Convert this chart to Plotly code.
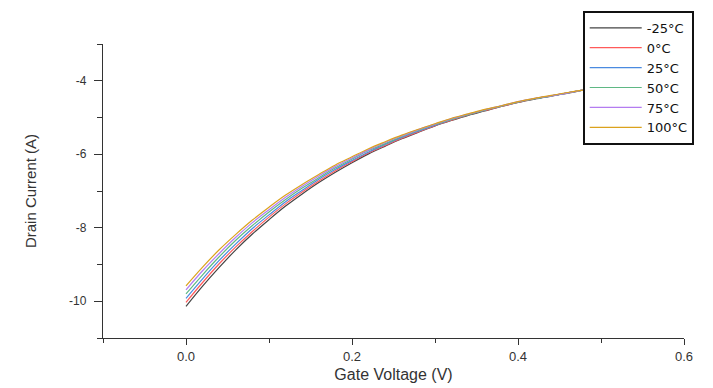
import plotly.graph_objects as go

gate_voltage = [0.00, 0.02, 0.04, 0.06, 0.08, 0.10, 0.12, 0.14, 0.16, 0.18, 0.20,
                0.22, 0.24, 0.26, 0.28, 0.30, 0.32, 0.34, 0.36, 0.38, 0.40,
                0.42, 0.44, 0.46, 0.48, 0.50, 0.52, 0.54, 0.56, 0.58, 0.60]

current_m25 = [-10.14, -9.59, -9.08, -8.60, -8.17, -7.78, -7.41, -7.08, -6.77, -6.49, -6.23,
               -5.99, -5.78, -5.58, -5.40, -5.23, -5.08, -4.94, -4.82, -4.70, -4.59,
               -4.50, -4.42, -4.34, -4.25, -4.19, -4.12, -4.07, -4.02, -3.97, -3.93]
current_0 = [-10.03, -9.49, -8.98, -8.52, -8.10, -7.71, -7.35, -7.03, -6.73, -6.45, -6.20,
             -5.96, -5.76, -5.56, -5.39, -5.22, -5.07, -4.93, -4.81, -4.70, -4.59,
             -4.49, -4.41, -4.33, -4.25, -4.19, -4.12, -4.07, -4.02, -3.97, -3.93]
current_25 = [-9.92, -9.39, -8.89, -8.44, -8.02, -7.65, -7.29, -6.98, -6.68, -6.41, -6.17,
              -5.94, -5.73, -5.54, -5.37, -5.21, -5.05, -4.92, -4.80, -4.69, -4.58,
              -4.49, -4.41, -4.33, -4.25, -4.19, -4.12, -4.07, -4.02, -3.97, -3.93]
current_50 = [-9.80, -9.28, -8.79, -8.34, -7.94, -7.57, -7.23, -6.92, -6.64, -6.37, -6.13,
              -5.90, -5.71, -5.52, -5.35, -5.19, -5.05, -4.92, -4.80, -4.69, -4.58,
              -4.49, -4.41, -4.33, -4.25, -4.19, -4.12, -4.07, -4.02, -3.97, -3.93]
current_75 = [-9.69, -9.17, -8.70, -8.26, -7.86, -7.51, -7.17, -6.87, -6.59, -6.33, -6.10,
              -5.88, -5.68, -5.50, -5.33, -5.18, -5.03, -4.91, -4.79, -4.68, -4.57,
              -4.48, -4.41, -4.33, -4.25, -4.19, -4.12, -4.07, -4.02, -3.97, -3.93]
current_100 = [-9.58, -9.07, -8.60, -8.18, -7.79, -7.44, -7.11, -6.82, -6.55, -6.29, -6.07,
               -5.85, -5.66, -5.48, -5.32, -5.17, -5.02, -4.90, -4.78, -4.68, -4.57,
               -4.48, -4.40, -4.32, -4.25, -4.19, -4.12, -4.07, -4.02, -3.97, -3.93]

series_names = ["-25°C", "0°C", "25°C", "50°C", "75°C", "100°C"]
series_values = [current_m25, current_0, current_25, current_50, current_75, current_100]
series_colors = ["#444444", "#ff5a5a", "#4a8ae0", "#5fb884", "#b47cf0", "#dba21c"]

x_tick_vals = [0.0, 0.2, 0.4, 0.6]
x_tick_text = ["0.0", "0.2", "0.4", "0.6"]
y_tick_vals = [-10, -8, -6, -4]
y_tick_text = ["-10", "-8", "-6", "-4"]

fig = go.Figure()
for name, vals, col in zip(series_names, series_values, series_colors):
    fig.add_trace(go.Scatter(x=gate_voltage, y=vals, mode="lines", name=name,
                             line=dict(color=col, width=1.2, shape="spline")))

font_family = "Liberation Sans, Arial, sans-serif"
# page body adds an 8px offset, so the figure is sized 8px smaller than the window
fig.update_layout(
    width=705, height=380,
    margin=dict(l=95, r=29, t=36, b=50, autoexpand=False),
    plot_bgcolor="white", paper_bgcolor="white",
    font=dict(family=font_family, color="#333333"),
    legend=dict(x=0.826, y=1.112, xanchor="left", yanchor="top",
                bordercolor="#111111", borderwidth=1.8, bgcolor="white",
                font=dict(size=13, color="#111111", family="DejaVu Sans, sans-serif"),
                itemwidth=52, tracegroupgap=0),
    showlegend=True,
)
fig.update_xaxes(range=[-0.1, 0.6], showgrid=False, zeroline=False, automargin=False,
                 showline=True, linecolor="#333333", linewidth=1.3,
                 tickvals=x_tick_vals, ticktext=x_tick_text,
                 ticks="outside", ticklen=6, tickcolor="#333333",
                 tickfont=dict(size=13, color="#333333"),
                 minor=dict(dtick=0.1, tick0=-0.1, ticks="outside", ticklen=4, tickcolor="#333333"),
                 title=dict(text="Gate Voltage (V)", font=dict(size=16, color="#333333"), standoff=6))
fig.update_yaxes(range=[-11, -3], showgrid=False, zeroline=False, automargin=False,
                 showline=True, linecolor="#333333", linewidth=1.3,
                 tickvals=y_tick_vals, ticktext=y_tick_text,
                 ticks="outside", ticklen=8, tickcolor="#333333", ticklabelstandoff=5,
                 tickfont=dict(size=12, color="#333333"),
                 minor=dict(dtick=1, tick0=-11, ticks="outside", ticklen=5, tickcolor="#333333"),
                 title=dict(text="Drain Current (A)", font=dict(size=15, color="#333333"), standoff=28))

fig.write_html("out.html")
